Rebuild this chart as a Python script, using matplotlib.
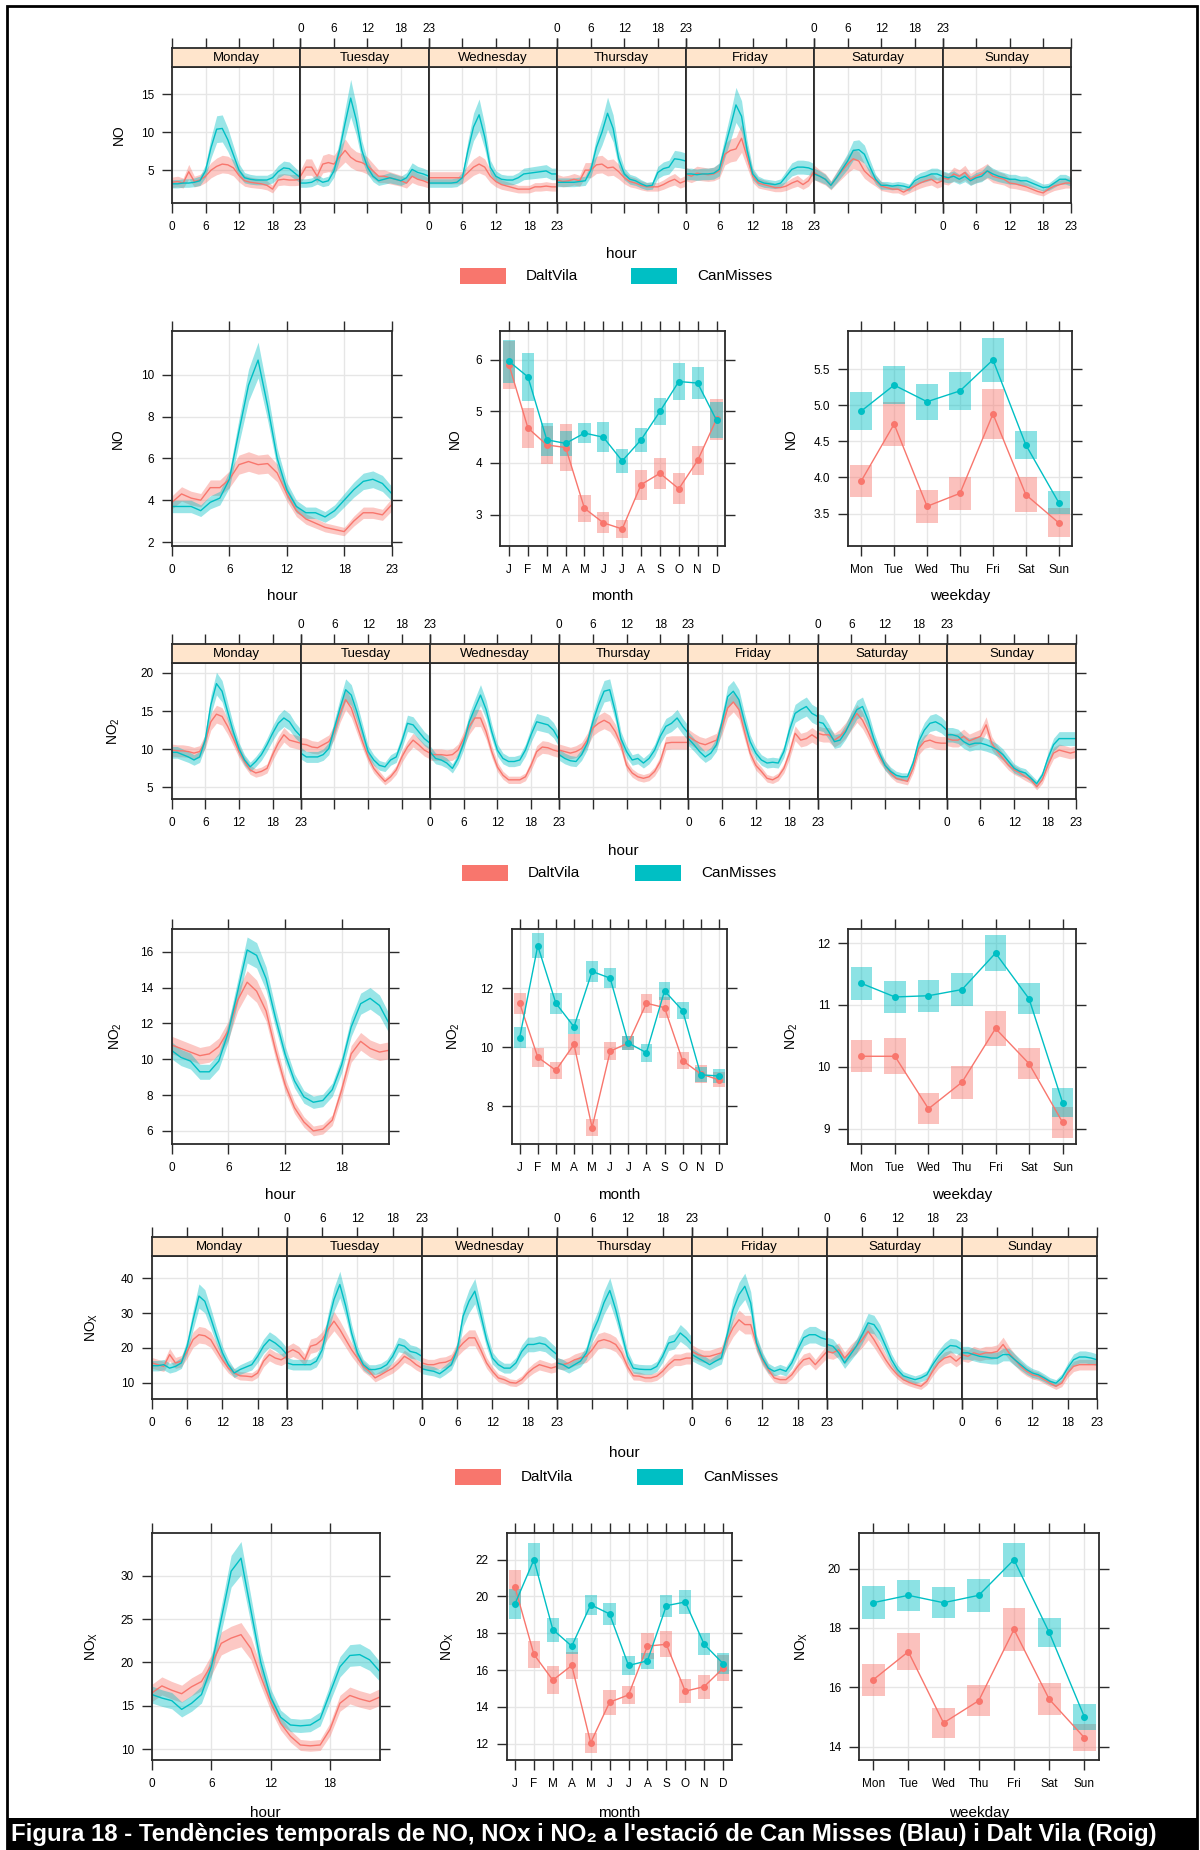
import matplotlib
matplotlib.use('Agg')
import matplotlib.pyplot as plt
from matplotlib.patches import Rectangle
import numpy as np

plt.rcParams['font.family'] = ['Liberation Sans Narrow', 'Liberation Sans', 'DejaVu Sans']
plt.rcParams['mathtext.default'] = 'regular'

W, H = 1200, 1850
DV_COL = '#F8766D'
CM_COL = '#00BFC4'
STRIP_COL = '#FFE5CC'
GRID_COL = '#E6E6E6'
EDGE_COL = '#2b2b2b'

DAYS = ['Monday', 'Tuesday', 'Wednesday', 'Thursday', 'Friday', 'Saturday', 'Sunday']
WEEKDAY_LABELS = ['Mon', 'Tue', 'Wed', 'Thu', 'Fri', 'Sat', 'Sun']
MONTH_LABELS = ['J', 'F', 'M', 'A', 'M', 'J', 'J', 'A', 'S', 'O', 'N', 'D']
HOURS = np.arange(24)

# ---- NO: hour of day for each weekday ----
no_dv_days = [
    [3.4, 3.5, 3.3, 4.8, 3.5, 3.7, 4.2, 5.0, 5.5, 5.8, 5.7, 5.3, 4.3, 3.6, 3.4, 3.3, 3.2, 3.0, 2.5, 3.7, 3.8, 3.7, 3.7, 3.8],
    [4.2, 5.4, 5.4, 4.2, 5.8, 6.0, 5.8, 6.7, 7.6, 6.7, 6.2, 6.0, 5.6, 4.9, 4.2, 4.2, 4.0, 3.8, 3.6, 3.3, 4.2, 3.8, 3.6, 3.3],
    [4.0, 4.0, 4.0, 4.0, 4.0, 4.0, 4.0, 4.7, 5.4, 5.8, 5.4, 4.2, 3.5, 3.1, 2.9, 2.7, 2.5, 2.5, 2.5, 2.8, 2.8, 2.9, 2.8, 2.8],
    [3.7, 3.5, 3.6, 3.8, 3.6, 5.0, 5.0, 5.7, 5.8, 5.3, 5.4, 4.8, 4.0, 3.5, 3.3, 3.0, 2.8, 2.8, 2.8, 3.1, 3.5, 3.8, 3.3, 3.6],
    [4.5, 4.2, 4.6, 4.5, 4.4, 4.5, 4.9, 7.1, 7.6, 7.8, 9.2, 6.7, 4.2, 3.3, 3.1, 2.9, 2.7, 2.7, 2.9, 3.3, 3.6, 3.1, 3.6, 4.9],
    [4.7, 4.2, 3.8, 3.0, 4.0, 4.9, 5.8, 6.5, 6.2, 4.9, 4.2, 3.6, 2.9, 2.7, 2.5, 2.5, 2.1, 2.5, 2.9, 3.3, 3.6, 3.8, 3.3, 3.6],
    [4.0, 3.8, 4.5, 4.2, 4.7, 3.8, 4.2, 4.5, 4.9, 4.2, 4.0, 3.8, 3.3, 3.2, 3.0, 2.8, 2.5, 2.2, 2.0, 2.5, 2.9, 3.1, 3.3, 3.3],
]
no_cm_days = [
    [3.2, 3.2, 3.3, 3.3, 3.4, 3.6, 4.9, 8.0, 10.4, 10.5, 9.0, 7.0, 5.0, 4.0, 3.8, 3.7, 3.7, 3.7, 4.0, 4.8, 5.3, 5.2, 4.6, 4.0],
    [3.3, 3.3, 3.4, 3.8, 3.4, 3.6, 4.9, 7.6, 11.2, 14.5, 11.6, 7.6, 5.4, 4.2, 3.6, 3.8, 4.0, 3.8, 3.6, 4.0, 5.1, 4.7, 4.5, 4.2],
    [3.3, 3.3, 3.3, 3.3, 3.3, 3.4, 4.0, 7.6, 10.7, 12.3, 9.4, 5.4, 4.2, 3.8, 3.7, 3.7, 4.0, 4.5, 4.6, 4.7, 4.8, 4.9, 4.5, 4.5],
    [3.4, 3.4, 3.4, 3.4, 3.5, 3.6, 5.0, 8.0, 10.0, 12.5, 10.5, 6.5, 4.5, 3.8, 3.6, 3.2, 2.9, 3.0, 4.7, 5.2, 5.4, 6.5, 6.4, 6.2],
    [4.5, 4.5, 4.4, 4.5, 4.5, 4.6, 5.1, 8.0, 10.7, 13.6, 12.1, 7.6, 4.5, 3.6, 3.3, 3.2, 3.1, 3.3, 4.2, 5.1, 5.4, 5.4, 5.3, 5.0],
    [4.5, 4.2, 3.8, 3.0, 4.0, 5.1, 6.2, 7.6, 7.7, 7.1, 5.4, 3.8, 3.0, 3.0, 2.9, 3.0, 2.9, 2.7, 3.6, 4.0, 4.2, 4.5, 4.5, 4.2],
    [4.2, 4.0, 4.2, 3.8, 4.2, 3.6, 4.0, 4.2, 4.9, 4.5, 4.2, 4.0, 3.8, 3.8, 3.6, 3.6, 3.3, 3.0, 2.7, 2.8, 3.3, 3.8, 3.8, 3.5],
]
no_hour_dv = [3.9, 4.3, 4.1, 4.0, 4.6, 4.6, 5.0, 5.7, 5.85, 5.7, 5.75, 5.3, 4.3, 3.5, 3.1, 2.9, 2.7, 2.6, 2.5, 3.0, 3.4, 3.4, 3.3, 3.8]
no_hour_cm = [3.7, 3.7, 3.7, 3.5, 3.9, 4.1, 5.0, 7.3, 9.5, 10.7, 8.5, 6.0, 4.5, 3.7, 3.4, 3.4, 3.2, 3.5, 4.0, 4.5, 4.9, 5.0, 4.8, 4.3]
no_month_dv = [5.9, 4.68, 4.35, 4.3, 3.12, 2.84, 2.72, 3.58, 3.8, 3.5, 4.05, 4.85]
no_month_dv_ci = [0.46, 0.38, 0.37, 0.45, 0.26, 0.2, 0.17, 0.29, 0.3, 0.3, 0.28, 0.4]
no_month_cm = [5.97, 5.67, 4.45, 4.38, 4.58, 4.5, 4.04, 4.45, 5.0, 5.58, 5.55, 4.83]
no_month_cm_ci = [0.42, 0.46, 0.32, 0.25, 0.2, 0.29, 0.23, 0.23, 0.27, 0.36, 0.31, 0.35]
no_week_dv = [3.95, 4.74, 3.6, 3.78, 4.88, 3.76, 3.37]
no_week_dv_ci = [0.22, 0.3, 0.23, 0.23, 0.34, 0.24, 0.2]
no_week_cm = [4.92, 5.28, 5.05, 5.2, 5.63, 4.45, 3.65]
no_week_cm_ci = [0.26, 0.26, 0.25, 0.26, 0.3, 0.19, 0.16]

# ---- NO2 ----
no2_dv_days = [
    [9.9, 9.8, 9.8, 9.7, 9.5, 9.7, 11.0, 13.6, 14.6, 14.3, 13.0, 11.4, 9.7, 8.4, 7.3, 6.9, 7.1, 7.5, 9.3, 10.8, 11.9, 11.2, 11.0, 10.8],
    [10.7, 10.6, 10.3, 10.2, 10.6, 11.0, 12.3, 14.7, 16.5, 15.4, 13.2, 11.0, 9.0, 7.5, 6.6, 5.8, 6.4, 7.3, 9.0, 10.3, 11.2, 10.6, 9.9, 9.5],
    [9.3, 9.3, 9.3, 9.2, 9.3, 9.9, 11.4, 13.0, 14.1, 14.1, 12.3, 9.7, 7.7, 6.6, 6.0, 6.0, 6.0, 6.4, 7.9, 9.7, 10.3, 10.2, 9.9, 9.7],
    [9.9, 9.7, 9.5, 9.7, 10.1, 11.2, 12.8, 13.4, 13.8, 13.4, 12.3, 10.6, 7.9, 6.9, 6.4, 6.2, 6.4, 7.1, 8.4, 10.8, 10.9, 10.9, 10.9, 10.9],
    [11.7, 11.2, 10.8, 10.6, 10.9, 11.2, 13.0, 15.4, 16.2, 15.2, 12.3, 9.5, 7.9, 7.1, 6.2, 6.0, 6.4, 7.5, 9.5, 12.1, 11.2, 11.4, 11.9, 11.4],
    [12.1, 11.9, 11.9, 11.2, 11.7, 12.5, 13.6, 14.7, 13.8, 12.3, 10.6, 9.0, 7.9, 6.9, 6.2, 6.0, 5.8, 7.5, 10.1, 11.0, 11.2, 10.9, 10.8, 10.8],
    [11.4, 11.2, 11.2, 11.7, 11.1, 11.4, 11.7, 13.2, 10.8, 9.7, 8.8, 7.9, 7.3, 6.9, 6.4, 6.0, 5.1, 6.0, 7.9, 9.5, 9.9, 9.7, 9.5, 9.7],
]
no2_cm_days = [
    [9.6, 9.6, 9.3, 9.0, 8.6, 9.0, 11.2, 15.8, 18.6, 17.6, 14.9, 12.3, 10.1, 8.6, 7.7, 8.4, 9.3, 10.6, 12.1, 13.4, 14.1, 13.6, 12.5, 11.7],
    [9.5, 9.0, 9.0, 9.0, 9.3, 10.1, 12.8, 15.4, 17.8, 17.1, 14.9, 12.3, 9.7, 8.6, 7.9, 7.7, 8.6, 9.0, 11.0, 13.4, 13.2, 12.3, 11.4, 10.8],
    [9.7, 8.8, 8.6, 8.2, 7.5, 8.8, 10.8, 13.6, 15.4, 17.1, 15.2, 12.3, 9.9, 8.8, 8.4, 8.4, 8.6, 9.9, 11.9, 13.6, 13.4, 13.2, 12.5, 11.2],
    [9.3, 8.8, 8.5, 8.4, 9.3, 10.8, 13.6, 15.8, 17.6, 17.8, 14.9, 11.4, 9.7, 8.6, 8.8, 8.2, 8.8, 9.9, 11.7, 13.0, 13.4, 14.1, 13.0, 12.1],
    [11.4, 10.6, 9.7, 9.0, 9.5, 10.6, 13.6, 16.9, 17.6, 16.5, 13.6, 11.0, 9.5, 8.6, 8.2, 8.3, 8.2, 9.7, 12.5, 14.7, 15.2, 15.6, 14.7, 14.3],
    [13.6, 13.4, 12.3, 11.0, 11.2, 12.3, 13.8, 15.2, 15.6, 13.8, 11.4, 9.5, 7.9, 7.1, 6.6, 6.4, 6.4, 8.2, 11.0, 12.5, 13.4, 13.6, 13.2, 12.5],
    [11.9, 11.9, 11.7, 11.0, 10.6, 10.8, 10.8, 10.6, 10.3, 9.9, 9.3, 8.4, 7.5, 7.1, 6.9, 6.2, 5.5, 6.6, 8.8, 10.6, 11.4, 11.4, 11.4, 11.4],
]
no2_hour_dv = [10.8, 10.6, 10.4, 10.2, 10.3, 10.7, 11.6, 13.3, 14.3, 13.8, 12.7, 10.5, 8.6, 7.3, 6.5, 6.0, 6.1, 6.6, 8.3, 10.3, 11.0, 10.6, 10.4, 10.5]
no2_hour_cm = [10.5, 10.1, 9.9, 9.3, 9.3, 9.9, 11.5, 13.8, 16.1, 15.8, 14.5, 12.3, 10.3, 8.8, 7.9, 7.6, 7.7, 8.3, 9.7, 11.8, 13.1, 13.4, 13.0, 12.0]
no2_month_dv = [11.5, 9.67, 9.22, 10.1, 7.28, 9.87, 10.15, 11.5, 11.35, 9.55, 9.1, 8.9]
no2_month_dv_ci = [0.35, 0.32, 0.3, 0.35, 0.28, 0.3, 0.25, 0.33, 0.35, 0.28, 0.3, 0.25]
no2_month_cm = [10.33, 13.45, 11.5, 10.7, 12.58, 12.35, 10.15, 9.82, 11.92, 11.25, 9.07, 9.03]
no2_month_cm_ci = [0.35, 0.42, 0.35, 0.25, 0.35, 0.35, 0.25, 0.3, 0.3, 0.3, 0.25, 0.25]
no2_week_dv = [10.17, 10.17, 9.32, 9.75, 10.62, 10.05, 9.1]
no2_week_dv_ci = [0.26, 0.29, 0.25, 0.27, 0.29, 0.25, 0.25]
no2_week_cm = [11.35, 11.13, 11.15, 11.25, 11.84, 11.1, 9.42]
no2_week_cm_ci = [0.27, 0.26, 0.26, 0.27, 0.29, 0.25, 0.24]

# ---- NOx ----
nox_dv_days = [
    [15.7, 15.2, 14.7, 18.1, 15.7, 16.2, 19.0, 22.4, 23.8, 23.5, 22.4, 19.5, 16.6, 14.2, 12.8, 12.0, 11.9, 11.7, 12.8, 16.2, 18.1, 17.1, 16.6, 17.6],
    [18.6, 19.5, 18.6, 16.6, 20.5, 21.0, 22.4, 25.3, 27.7, 25.3, 22.4, 19.5, 17.1, 14.7, 13.3, 11.4, 12.3, 13.3, 14.2, 15.7, 17.6, 16.6, 15.2, 14.2],
    [15.7, 15.2, 15.2, 15.7, 15.9, 16.6, 19.5, 21.4, 22.9, 22.9, 19.5, 15.7, 13.3, 11.4, 10.9, 10.1, 9.9, 10.9, 12.8, 14.2, 15.2, 14.7, 14.2, 14.7],
    [15.7, 15.2, 15.7, 16.6, 17.1, 17.6, 19.5, 21.9, 22.4, 21.9, 21.0, 18.6, 14.7, 12.0, 11.9, 11.4, 11.4, 11.9, 13.3, 15.2, 16.6, 16.6, 17.1, 17.1],
    [19.0, 18.1, 17.6, 17.6, 18.1, 18.6, 22.4, 25.8, 28.1, 26.7, 26.7, 21.0, 16.6, 13.8, 11.4, 10.9, 10.9, 12.3, 14.7, 16.6, 17.1, 15.2, 17.1, 19.0],
    [19.0, 18.6, 19.5, 17.1, 19.0, 20.5, 22.4, 24.8, 22.4, 19.5, 16.6, 14.2, 12.3, 10.9, 10.1, 9.5, 9.0, 10.4, 13.3, 15.7, 17.1, 17.6, 16.2, 17.6],
    [18.1, 17.6, 18.6, 18.1, 18.6, 18.6, 19.0, 21.0, 18.6, 16.6, 14.7, 13.3, 12.3, 11.9, 10.9, 9.9, 9.0, 9.9, 12.8, 14.7, 15.2, 15.2, 15.2, 15.2],
]
nox_cm_days = [
    [14.9, 14.9, 15.2, 14.2, 14.7, 15.7, 20.5, 28.1, 34.9, 33.4, 28.6, 23.4, 18.6, 15.2, 12.8, 13.8, 14.5, 15.2, 17.6, 20.5, 22.4, 21.4, 20.0, 18.1],
    [15.7, 15.2, 15.2, 15.2, 15.2, 16.2, 19.5, 27.2, 33.9, 38.2, 32.0, 24.3, 18.6, 15.2, 13.8, 13.8, 14.2, 15.2, 17.6, 21.0, 20.5, 19.0, 18.6, 17.6],
    [14.0, 13.6, 13.3, 12.6, 13.8, 15.2, 19.5, 29.1, 33.4, 36.3, 29.6, 22.4, 17.1, 15.2, 14.2, 14.2, 15.7, 19.0, 21.0, 21.0, 21.4, 21.0, 19.5, 18.1],
    [15.7, 15.2, 14.2, 15.2, 16.2, 18.6, 24.3, 28.0, 33.0, 36.5, 31.0, 24.3, 17.6, 14.2, 13.9, 13.8, 13.8, 14.7, 17.6, 21.4, 21.9, 24.3, 22.9, 21.0],
    [18.1, 17.1, 16.2, 15.2, 16.2, 17.1, 23.8, 31.0, 35.3, 37.7, 32.9, 21.4, 17.1, 14.2, 13.3, 13.9, 13.3, 15.7, 19.5, 22.9, 23.8, 23.8, 22.9, 22.4],
    [21.0, 20.5, 18.6, 15.7, 18.1, 20.5, 23.8, 27.2, 26.7, 24.3, 20.5, 16.6, 13.8, 12.0, 11.4, 10.9, 11.4, 12.3, 15.2, 17.6, 19.5, 20.7, 20.5, 19.5],
    [18.6, 18.6, 18.1, 17.6, 17.4, 17.1, 17.1, 18.1, 18.1, 16.6, 15.2, 13.8, 12.8, 12.3, 11.4, 10.4, 9.9, 11.4, 14.2, 16.6, 17.4, 17.4, 17.1, 16.6],
]
nox_hour_dv = [16.5, 17.3, 16.8, 16.4, 17.2, 17.8, 19.7, 22.2, 22.8, 23.2, 21.6, 18.4, 15.4, 13.0, 11.5, 10.5, 10.4, 10.5, 12.3, 15.3, 16.2, 15.8, 15.5, 16.0]
nox_hour_cm = [16.3, 15.9, 15.6, 14.6, 15.3, 16.3, 19.5, 25.0, 30.5, 32.0, 26.0, 20.0, 16.0, 13.7, 12.8, 12.7, 12.8, 13.5, 16.5, 19.5, 20.8, 20.9, 20.3, 19.0]
nox_month_dv = [20.5, 16.85, 15.45, 16.25, 12.05, 14.25, 14.65, 17.3, 17.4, 14.85, 15.1, 16.1]
nox_month_dv_ci = [0.95, 0.75, 0.75, 0.72, 0.55, 0.67, 0.5, 0.7, 0.7, 0.65, 0.65, 0.7]
nox_month_cm = [19.6, 22.0, 18.2, 17.3, 19.55, 19.05, 16.25, 16.5, 19.5, 19.7, 17.4, 16.35]
nox_month_cm_ci = [0.8, 0.9, 0.65, 0.45, 0.55, 0.62, 0.5, 0.45, 0.6, 0.65, 0.6, 0.57]
nox_week_dv = [16.25, 17.2, 14.8, 15.55, 17.95, 15.6, 14.3]
nox_week_dv_ci = [0.55, 0.62, 0.5, 0.52, 0.72, 0.55, 0.45]
nox_week_cm = [18.85, 19.1, 18.85, 19.1, 20.3, 17.85, 15.0]
nox_week_cm_ci = [0.55, 0.52, 0.52, 0.55, 0.57, 0.48, 0.45]


def px(x0, y0, x1, y1):
    # pixel box (top-left origin) -> figure fraction rect
    return [x0 / W, 1 - y1 / H, (x1 - x0) / W, (y1 - y0) / H]


def fx(x):
    return x / W


def fy(y):
    return 1 - y / H


def frame(ax):
    for s in ax.spines.values():
        s.set_color(EDGE_COL)
        s.set_linewidth(1.3)
    ax.tick_params(direction='out', length=7, width=1, color=EDGE_COL,
                   labelcolor='black', labelsize=8.5, pad=6)
    ax.grid(True, color=GRID_COL, lw=1)
    ax.set_axisbelow(True)


def band(ax, x, v, rel, color):
    v = np.asarray(v)
    ax.fill_between(x, v * (1 - rel), v * (1 + rel), color=color, alpha=0.4, lw=0)


def legend(fig, y, red_x, teal_x):
    for x0, col, name in [(red_x, DV_COL, 'DaltVila'), (teal_x, CM_COL, 'CanMisses')]:
        fig.add_artist(Rectangle((fx(x0), fy(y + 8)), 46 / W, 16 / H,
                                 transform=fig.transFigure, color=col, lw=0))
        fig.text(fx(x0 + 66), fy(y), name, fontsize=11, ha='left', va='center')


def strip_block(fig, x0, x1, y_head, y_top, y_bot, dv_days, cm_days, rel_dv, rel_cm,
                ylim, yticks, ylabel, ylabel_x, label_y, legend_y, red_x, teal_x):
    w = (x1 - x0) / 7
    for i, day in enumerate(DAYS):
        ax = fig.add_axes(px(x0 + i * w, y_top, x0 + (i + 1) * w, y_bot))
        band(ax, HOURS, dv_days[i], rel_dv, DV_COL)
        band(ax, HOURS, cm_days[i], rel_cm, CM_COL)
        ax.plot(HOURS, dv_days[i], color=DV_COL, lw=1)
        ax.plot(HOURS, cm_days[i], color=CM_COL, lw=1)
        ax.set_xlim(0, 23)
        ax.set_ylim(*ylim)
        ax.set_xticks([0, 6, 12, 18, 23])
        ax.set_yticks(yticks)
        frame(ax)
        ax.tick_params(axis='x', top=False, labelbottom=(i % 2 == 0))
        ax.tick_params(axis='y', left=(i == 0), labelleft=(i == 0), right=(i == 6))

        head = fig.add_axes(px(x0 + i * w, y_head, x0 + (i + 1) * w, y_top))
        head.set_facecolor(STRIP_COL)
        head.set_xlim(0, 23)
        head.set_ylim(0, 1)
        head.set_xticks([0, 6, 12, 18, 23])
        head.set_yticks([])
        for s in head.spines.values():
            s.set_color(EDGE_COL)
            s.set_linewidth(1.3)
        head.tick_params(axis='x', bottom=False, labelbottom=False, top=True,
                         labeltop=(i % 2 == 1), direction='out', length=7, width=1,
                         color=EDGE_COL, labelsize=8.5, pad=2)
        head.text(11.5, 0.45, day, ha='center', va='center', fontsize=9.5)

    fig.text(fx(ylabel_x), fy((y_top + y_bot) / 2), ylabel, rotation=90,
             ha='center', va='center', fontsize=10)
    fig.text(fx((x0 + x1) / 2), fy(label_y), 'hour', ha='center', va='center', fontsize=11)
    legend(fig, legend_y, red_x, teal_x)


def hour_panel(fig, box, dv, cm, rel_dv, rel_cm, ylim, yticks, xticks, ylabel, ylabel_x, label_y):
    ax = fig.add_axes(px(*box))
    band(ax, HOURS, dv, rel_dv, DV_COL)
    band(ax, HOURS, cm, rel_cm, CM_COL)
    ax.plot(HOURS, dv, color=DV_COL, lw=1)
    ax.plot(HOURS, cm, color=CM_COL, lw=1)
    ax.set_xlim(0, 23)
    ax.set_ylim(*ylim)
    ax.set_xticks(xticks)
    ax.set_yticks(yticks)
    frame(ax)
    ax.tick_params(top=True, right=True)
    panel_labels(fig, box, ylabel, ylabel_x, label_y, 'hour')


def cat_panel(fig, box, dv, dv_ci, cm, cm_ci, labels, xlim, ylim, yticks, ylabel, ylabel_x,
              label_y, xlabel):
    ax = fig.add_axes(px(*box))
    x = np.arange(1, len(labels) + 1)
    dv, cm = np.asarray(dv), np.asarray(cm)
    dv_ci, cm_ci = np.asarray(dv_ci), np.asarray(cm_ci)
    ax.bar(x, 2 * dv_ci, bottom=dv - dv_ci, width=0.65, color=DV_COL, alpha=0.45, lw=0)
    ax.bar(x, 2 * cm_ci, bottom=cm - cm_ci, width=0.65, color=CM_COL, alpha=0.45, lw=0)
    ax.plot(x, dv, '-o', color=DV_COL, lw=1, ms=4)
    ax.plot(x, cm, '-o', color=CM_COL, lw=1, ms=4)
    ax.set_xlim(*xlim)
    ax.set_ylim(*ylim)
    ax.set_xticks(x)
    ax.set_xticklabels(labels)
    ax.set_yticks(yticks)
    frame(ax)
    ax.tick_params(top=True, right=True)
    panel_labels(fig, box, ylabel, ylabel_x, label_y, xlabel)


def panel_labels(fig, box, ylabel, ylabel_x, label_y, xlabel):
    x0, y0, x1, y1 = box
    fig.text(fx(ylabel_x), fy((y0 + y1) / 2), ylabel, rotation=90,
             ha='center', va='center', fontsize=10)
    fig.text(fx((x0 + x1) / 2), fy(label_y), xlabel, ha='center', va='center', fontsize=11)


fig = plt.figure(figsize=(12, 18.5), dpi=100)

# NO
strip_block(fig, 172, 1071, 48, 67, 203, no_dv_days, no_cm_days, 0.2, 0.17,
            (0.67, 18.6), [5, 10, 15], 'NO', 119, 254, 276, 460, 631)
hour_panel(fig, (172, 331, 392, 546), no_hour_dv, no_hour_cm, 0.08, 0.08,
           (1.81, 12.09), [2, 4, 6, 8, 10], [0, 6, 12, 18, 23], 'NO', 118, 596)
cat_panel(fig, (500, 331, 725, 546), no_month_dv, no_month_dv_ci, no_month_cm, no_month_cm_ci,
          MONTH_LABELS, (0.52, 12.45), (2.39, 6.56), [3, 4, 5, 6], 'NO', 455, 596, 'month')
cat_panel(fig, (848, 331, 1072, 546), no_week_dv, no_week_dv_ci, no_week_cm, no_week_cm_ci,
          WEEKDAY_LABELS, (0.6, 7.4), (3.05, 6.03), [3.5, 4.0, 4.5, 5.0, 5.5], 'NO', 791, 596,
          'weekday')

# NO2
strip_block(fig, 171.5, 1076, 644, 663, 799, no2_dv_days, no2_cm_days, 0.08, 0.08,
            (3.49, 21.3), [5, 10, 15, 20], 'NO$_2$', 114, 851, 873, 462, 635)
hour_panel(fig, (171.5, 929, 389, 1144), no2_hour_dv, no2_hour_cm, 0.045, 0.045,
           (5.27, 17.27), [6, 8, 10, 12, 14, 16], [0, 6, 12, 18], 'NO$_2$', 116, 1195)
cat_panel(fig, (511.5, 929, 727, 1144), no2_month_dv, no2_month_dv_ci, no2_month_cm,
          no2_month_cm_ci, MONTH_LABELS, (0.55, 12.45), (6.72, 14.02), [8, 10, 12], 'NO$_2$',
          454, 1195, 'month')
cat_panel(fig, (848, 929, 1076, 1144), no2_week_dv, no2_week_dv_ci, no2_week_cm, no2_week_cm_ci,
          WEEKDAY_LABELS, (0.6, 7.4), (8.75, 12.23), [9, 10, 11, 12], 'NO$_2$', 792, 1195,
          'weekday')

# NOx
strip_block(fig, 152, 1097, 1237, 1256, 1399, nox_dv_days, nox_cm_days, 0.1, 0.1,
            (5.34, 46.4), [10, 20, 30, 40], 'NO$_X$', 92, 1453, 1477, 455, 637)
hour_panel(fig, (152, 1533, 379.5, 1760), nox_hour_dv, nox_hour_cm, 0.06, 0.06,
           (8.77, 34.9), [10, 15, 20, 25, 30], [0, 6, 12, 18], 'NO$_X$', 92, 1813)
cat_panel(fig, (506.5, 1533, 731.6, 1760), nox_month_dv, nox_month_dv_ci, nox_month_cm,
          nox_month_cm_ci, MONTH_LABELS, (0.55, 12.45), (11.11, 23.45), [12, 14, 16, 18, 20, 22],
          'NO$_X$', 448, 1813, 'month')
cat_panel(fig, (859, 1533, 1098.5, 1760), nox_week_dv, nox_week_dv_ci, nox_week_cm,
          nox_week_cm_ci, WEEKDAY_LABELS, (0.6, 7.4), (13.55, 21.2), [14, 16, 18, 20], 'NO$_X$',
          802, 1813, 'weekday')

# caption bar and page border
fig.add_artist(Rectangle((fx(7), fy(1849)), (1197 - 7) / W, 31 / H,
                         transform=fig.transFigure, color='black', lw=0, zorder=10))
fig.text(fx(11), fy(1834),
         "Figura 18 - Tendències temporals de NO, NOx i NO\u2082 a l'estació de Can Misses (Blau) i Dalt Vila (Roig)",
         color='white', fontsize=17.3, fontweight='bold', ha='left', va='center', zorder=11,
         family=['Liberation Sans Narrow', 'Liberation Sans', 'DejaVu Sans'])
fig.add_artist(Rectangle((fx(7), fy(1849)), (1197 - 7) / W, (1849 - 6) / H,
                         transform=fig.transFigure, fill=False, edgecolor='black', lw=2, zorder=12))

fig.savefig('out.png', dpi=100)
